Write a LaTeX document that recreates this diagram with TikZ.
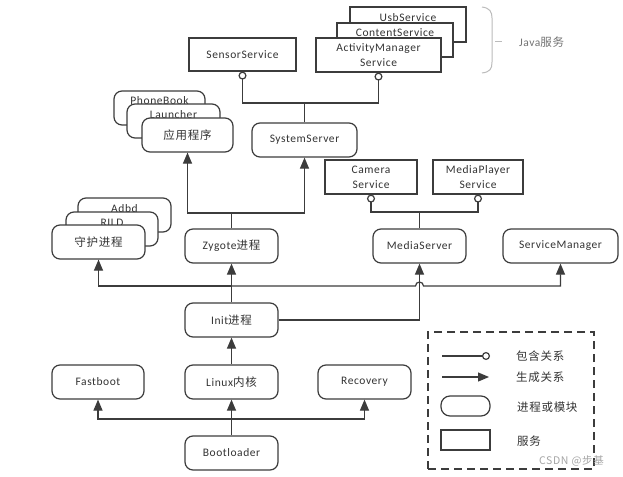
\documentclass[tikz,border=0pt]{standalone}
\usepackage{fontspec}
\setmainfont{Carlito}[LetterSpace=5]
\newfontfamily\cjk{Noto Sans CJK SC}[LetterSpace=6]
\usetikzlibrary{arrows.meta}
\newcommand{\zh}[1]{{\cjk #1}}
\definecolor{lc}{HTML}{3C3C3C}
\definecolor{tc}{HTML}{333333}
\definecolor{bc}{HTML}{BBBBBB}
\tikzset{
  ln/.style={draw=lc, line width=1.2pt},
  svc/.style={draw=lc, line width=1.2pt, fill=white, rectangle, inner sep=0pt, text=tc,
    font=\fontsize{11.5}{15}\selectfont, align=center},
  proc/.style={svc, rounded corners=8pt},
  backbox/.style={text height=14pt, text depth=20pt},
  gen/.style={draw=lc, line width=1.2pt, -{Triangle[length=11pt,width=9pt]}},
  contain/.style={draw=lc, line width=1.2pt, -{Circle[open,length=8pt,width=8pt]}},
  lt/.style={anchor=west, inner sep=0pt, text=tc, font=\fontsize{11.5}{14}\selectfont},
}
\begin{document}
\begin{tikzpicture}[x=1pt,y=-1pt]
\fill[white] (0,0) rectangle (623,476);
\useasboundingbox (0,0) rectangle (623,476);

% Java services
\node[svc, backbox, minimum width=116pt, minimum height=35pt] (usb) at (408,24.5) {UsbService};
\node[svc, backbox, minimum width=116pt, minimum height=34pt] (content) at (395,40) {ContentService};
\node[svc, minimum width=125pt, minimum height=34pt] (ams) at (378.5,55) {ActivityManager\\Service};
\node[svc, minimum width=107pt, minimum height=33pt] (sensor) at (242.5,54.5) {SensorService};

% brace
\draw[bc, line width=1pt] (482,7) .. controls (490,8) and (492,12) .. (492,18) -- (492,62)
  .. controls (492,69) and (490,72) .. (482,73);
\draw[bc, line width=1pt] (495,42) -- (502,42);
\node[lt, text=black!55] (java) at (519,42) {Java\zh{服务}};

% applications
\node[proc, backbox, minimum width=91pt, minimum height=34pt] (phonebook) at (159.5,108) {PhoneBook};
\node[proc, backbox, minimum width=93pt, minimum height=34pt] (launcher) at (173.5,121) {Launcher};
\node[proc, minimum width=91pt, minimum height=34pt] (app) at (187.5,135) {\zh{应用程序}};
\node[proc, minimum width=105pt, minimum height=34pt] (ss) at (304.5,140) {SystemServer};

% native services
\node[svc, minimum width=92pt, minimum height=34pt] (camera) at (371,177) {Camera\\Service};
\node[svc, minimum width=90pt, minimum height=34pt] (mp) at (478,177) {MediaPlayer\\Service};

% daemons
\node[proc, backbox, minimum width=93pt, minimum height=34pt] (adbd) at (124.5,215) {Adbd};
\node[proc, backbox, minimum width=92pt, minimum height=34pt] (rild) at (112,229) {RILD};
\node[proc, minimum width=93pt, minimum height=34pt] (daemon) at (98.5,242) {\zh{守护进程}};

\node[proc, minimum width=93pt, minimum height=34pt] (zy) at (231.5,246) {Zygote\zh{进程}};
\node[proc, minimum width=93pt, minimum height=34pt] (ms) at (419.5,246) {MediaServer};
\node[proc, minimum width=115pt, minimum height=34pt] (sm) at (560.5,246) {ServiceManager};

\node[proc, minimum width=93pt, minimum height=34pt] (init) at (231.5,320) {Init\zh{进程}};

\node[proc, minimum width=92pt, minimum height=34pt] (fastboot) at (98,382) {Fastboot};
\node[proc, minimum width=93pt, minimum height=34pt] (linux) at (231.5,382) {Linux\zh{内核}};
\node[proc, minimum width=93pt, minimum height=34pt] (recovery) at (364.5,382) {Recovery};
\node[proc, minimum width=93pt, minimum height=34pt] (boot) at (231.5,453) {Bootloader};

% junctions
\coordinate (jA) at (304.5,103);
\coordinate (jB) at (419.5,212);
\coordinate (jC) at (231.5,213);
\coordinate (jD) at (231.5,286);
\coordinate (hopL) at (415.5,286);
\coordinate (jE) at (231.5,419);

% contain relations
\draw[ln] (ss.north) -- (jA);
\draw[contain] (jA) -| (sensor.south);
\draw[contain] (jA) -| (ams.south);
\draw[ln] (ms.north) -- (jB);
\draw[contain] (jB) -| (camera.south);
\draw[contain] (jB) -| (mp.south);

% generate relations
\draw[ln] (zy.north) -- (jC);
\draw[gen] (jC) -| (app.south);
\draw[gen] (jC) -| (ss.south);

\draw[ln] (init.north) -- (jD);
\draw[gen] (jD) -| (daemon.south);
\draw[gen] (jD) -- (zy.south);
\draw[gen] (jD) -- (hopL) arc[start angle=180, end angle=0, radius=4pt] -| (sm.south);
\draw[gen] (init.east) -| (ms.south);

\draw[gen] (linux.north) -- (init.south);
\draw[gen] (boot.north) -- (linux.south);
\draw[gen] (jE) -| (fastboot.south);
\draw[gen] (jE) -| (recovery.south);

% legend
\node[draw=lc, line width=1.2pt, dash pattern=on 8pt off 5pt, minimum width=166pt,
  minimum height=137pt, inner sep=0pt] (legend) at (511,400.5) {};
\coordinate (l1a) at (442,356);
\coordinate (l1b) at (490,356);
\draw[contain] (l1a) -- (l1b);
\coordinate (l2a) at (442,377);
\coordinate (l2b) at (489,377);
\draw[gen] (l2a) -- (l2b);
\node[proc, rounded corners=9pt, minimum width=49pt, minimum height=20pt] (lproc) at (465.5,406) {};
\node[svc, minimum width=49pt, minimum height=20pt] (lsvc) at (465.5,440) {};
\node[lt] (t1) at (516,356) {\zh{包含关系}};
\node[lt] (t2) at (516,377) {\zh{生成关系}};
\node[lt] (t3) at (517,407) {\zh{进程或模块}};
\node[lt] (t4) at (517,441) {\zh{服务}};

% watermark
\node[anchor=west, inner sep=0pt, text=black!35, font=\cjk\fontsize{10.5}{12}\selectfont] (wm) at (539,461) {CSDN @步基};
\end{tikzpicture}
\end{document}
